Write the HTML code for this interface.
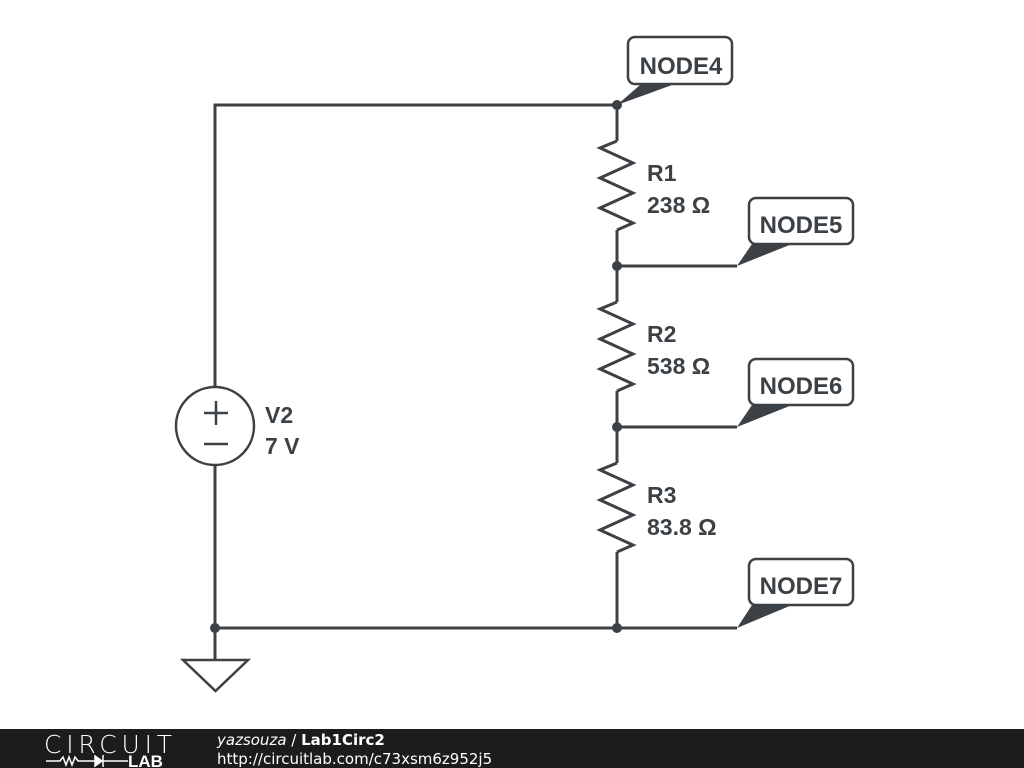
<!DOCTYPE html>
<html><head><style>body{margin:0;width:1024px;height:768px;overflow:hidden;background:#fff}</style></head><body>
<svg width="1024" height="768" xmlns="http://www.w3.org/2000/svg" style="position:absolute;left:0;top:0">
<g stroke="#3c4146" stroke-width="3" fill="none" stroke-linejoin="miter">
<polyline points="215,387 215,105 617,105 617,141"/>
<polyline points="617,230 617,302"/>
<polyline points="617,391 617,463"/>
<polyline points="617,552 617,628"/>
<polyline points="215,465 215,660"/>
<line x1="215" y1="628" x2="737" y2="628"/>
<line x1="617" y1="266" x2="737" y2="266"/>
<line x1="617" y1="427" x2="737" y2="427"/>
<polyline points="617,141 600,148 633,163 600,178 633,193 600,208 633,223 617,230"/>
<polyline points="617,302 600,309 633,324 600,339 633,354 600,369 633,384 617,391"/>
<polyline points="617,463 600,470 633,485 600,500 633,515 600,530 633,545 617,552"/>
<circle cx="215" cy="426" r="39" stroke-width="2.5"/>
<line x1="204" y1="413" x2="228" y2="413" stroke-width="2.5"/>
<line x1="216" y1="401" x2="216" y2="425" stroke-width="2.5"/>
<line x1="204" y1="444" x2="228" y2="444" stroke-width="2.5"/>
<polygon points="183,660 248,660 215.5,691" stroke-width="2.5"/>
<rect x="628" y="37" width="104" height="47" rx="7" stroke-width="2.5"/>
<rect x="749" y="198" width="104" height="46" rx="7" stroke-width="2.5"/>
<rect x="749" y="359" width="104" height="46" rx="7" stroke-width="2.5"/>
<rect x="749" y="559" width="104" height="46" rx="7" stroke-width="2.5"/>
</g>
<g fill="#3c4146">
<polygon points="617,105 640,85 672,85"/>
<polygon points="737,266 752,244 792,244"/>
<polygon points="737,427 752,405 792,405"/>
<polygon points="737,628 752,605 792,605"/>
<circle cx="617" cy="105" r="5"/><circle cx="617" cy="266" r="5"/><circle cx="617" cy="427" r="5"/><circle cx="617" cy="628" r="5"/><circle cx="215" cy="628" r="5"/>
</g>
<g font-family="Liberation Sans, sans-serif" font-weight="bold" fill="#3c4146" font-size="23">
<text x="647" y="181">R1</text><text x="647" y="213">238 Ω</text>
<text x="647" y="342">R2</text><text x="647" y="374">538 Ω</text>
<text x="647" y="503">R3</text><text x="647" y="535">83.8 Ω</text>
<text x="265" y="423">V2</text><text x="265" y="454">7 V</text>
<g font-size="24"><text x="681" y="74" text-anchor="middle">NODE4</text>
<text x="801" y="233" text-anchor="middle">NODE5</text>
<text x="801" y="394" text-anchor="middle">NODE6</text>
<text x="801" y="594" text-anchor="middle">NODE7</text></g>
</g>
<rect x="0" y="729" width="1024" height="39" fill="#1c1c1c"/>
<text x="44" y="753" font-family="DejaVu Sans, sans-serif" font-size="25" fill="#fff" font-weight="200" textLength="128">CIRCUIT</text>
<g stroke="#fff" stroke-width="1.5" fill="none"><polyline points="46,761 60,761 63,757 66,765 69,757 72,765 75,757 78,761 95,761"/><polygon points="95,756 102,761 95,766" fill="#fff"/><line x1="103" y1="755" x2="103" y2="767"/><line x1="103" y1="761" x2="128" y2="761"/></g>
<text x="128" y="767" font-family="Liberation Sans, sans-serif" font-weight="bold" font-size="17" fill="#fff">LAB</text>
<text x="217" y="745" font-family="DejaVu Sans, sans-serif" font-size="15" fill="#fff"><tspan font-style="italic">yazsouza</tspan> / <tspan font-weight="bold">Lab1Circ2</tspan></text>
<text x="217" y="764" font-family="DejaVu Sans, sans-serif" font-size="15" fill="#fff">http://circuitlab.com/c73xsm6z952j5</text>
</svg>
</body></html>
